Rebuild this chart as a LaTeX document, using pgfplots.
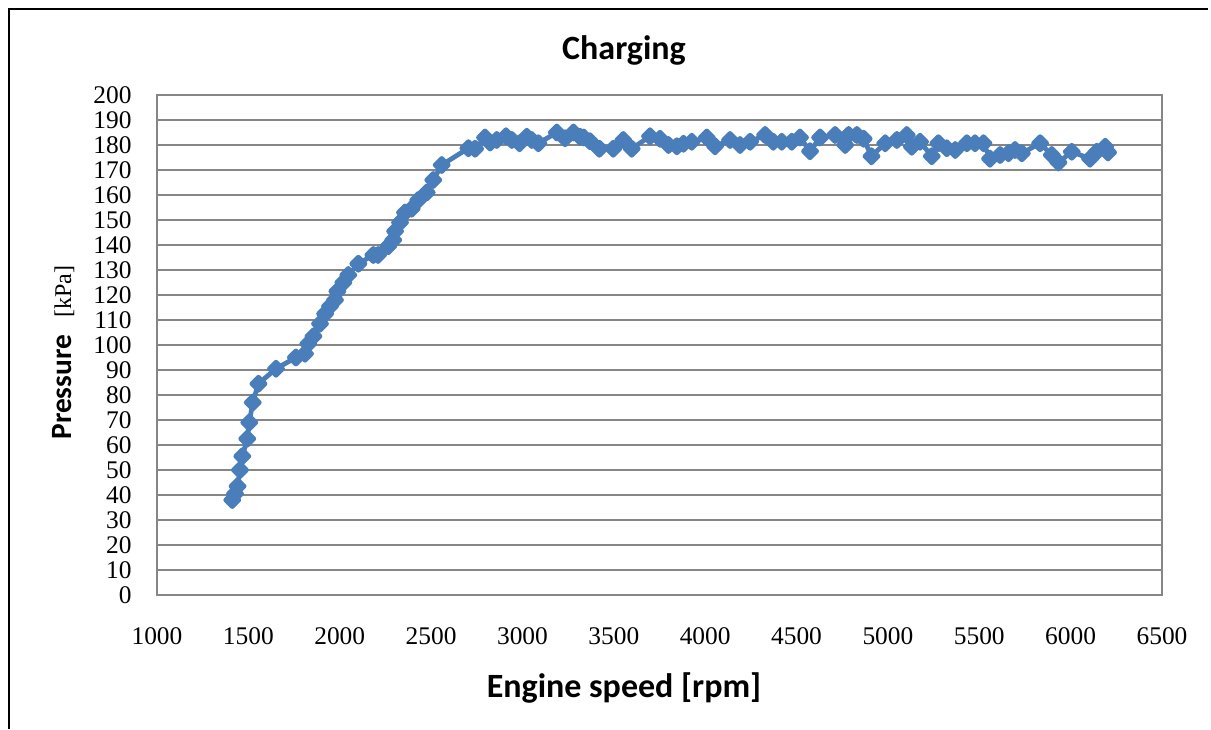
\documentclass[border=0pt]{standalone}
\usepackage{pgfplots}
\pgfplotsset{compat=1.18}
\usepackage{fontspec}
\setmainfont{Liberation Serif}
\setsansfont{Carlito}
\definecolor{excelblue}{RGB}{74,126,187}
\definecolor{gridgray}{RGB}{134,134,134}
\begin{document}
\begin{tikzpicture}
\begin{scope}[x=0.5pt,y=0.5pt]
\path[use as bounding box] (0,0) rectangle (1211,729);
\draw[line width=1pt,black] (9,0) -- (9,720) -- (1208,720);
\end{scope}
\begin{axis}[
  at={(78.5pt,67pt)}, anchor=south west,
  scale only axis, width=502.5pt, height=250pt,
  xmin=1000, xmax=6500, ymin=0, ymax=200,
  xtick={1000,1500,...,6500}, ytick={0,10,...,200},
  scaled ticks=false,
  ymajorgrids, grid style={draw=gridgray, line width=1pt},
  axis line style={draw=gridgray, line width=1pt},
  major tick length=0pt,
  /pgf/number format/1000 sep={},
  /pgf/number format/assume math mode=true,
  tick label style={font=\fontsize{12.7}{12.7}\selectfont, inner sep=0pt},
  yticklabel style={anchor=east, xshift=-12.5pt},
  xticklabel style={anchor=north, yshift=-16pt},
  clip=false,
]
\addplot[color=excelblue, line width=2.4pt, line join=round, mark=square*, mark size=2.3pt, mark options={solid, rotate=45, fill=excelblue}] table {
x y
1412 38
1427 40.5
1441 43.5
1454 50
1467 55.5
1494 62.5
1505 69
1524 77
1555 84.5
1651 90.5
1760 95
1810 96.5
1828 100.5
1856 103.5
1892 108.5
1920 112.5
1947 115.5
1974 118
1987 121.5
2020 125
2047 128
2102 132.5
2184 136
2210 136
2266 139.5
2293 142
2303 145.5
2330 149
2357 153
2394 154.5
2430 158
2476 161
2512 166
2558 172
2704 178.7
2741 178.5
2795 183
2823 181
2859 182
2910 183.5
2942 182
2984 180.7
3024 183.3
3051 182
3087 180.7
3188 185
3233 182.7
3279 185
3315 183.3
3335 183
3370 181.5
3421 178.5
3497 178.5
3552 182
3598 178.5
3698 183.5
3753 182.5
3799 180
3845 179.5
3881 180.5
3927 181.3
4009 183
4054 179.5
4136 182
4191 180
4246 181.3
4328 184
4373 181.3
4419 181.3
4474 181.3
4519 183
4574 177.5
4629 183
4711 184
4766 180
4785 184
4830 184
4867 182.5
4910 175.5
4985 180.7
5049 182
5103 184
5131 179.3
5176 181.3
5240 175.5
5276 180.7
5322 178.7
5368 178
5432 180.7
5477 180.7
5523 180.7
5559 174.5
5614 176
5660 176.7
5696 178
5733 176.7
5833 180.7
5897 176
5933 173
6006 177.3
6106 174.5
6143 177.3
6189 179.3
6205 177
};
\end{axis}
\begin{scope}[x=0.5pt,y=0.5pt]
\node[anchor=base, inner sep=0pt, font=\sffamily\bfseries\fontsize{17}{17}\selectfont] at (624,669) {Charging};
\node[anchor=base, inner sep=0pt, font=\sffamily\bfseries\fontsize{17}{17}\selectfont] at (624,32) {Engine speed [rpm]};
\node[anchor=base west, rotate=90, inner sep=0pt] at (71,289) {{\sffamily\bfseries\fontsize{14.7}{14.7}\selectfont Pressure}\hspace{8.5pt}{\fontsize{12}{12}\selectfont [kPa]}};
\end{scope}
\end{tikzpicture}
\end{document}
